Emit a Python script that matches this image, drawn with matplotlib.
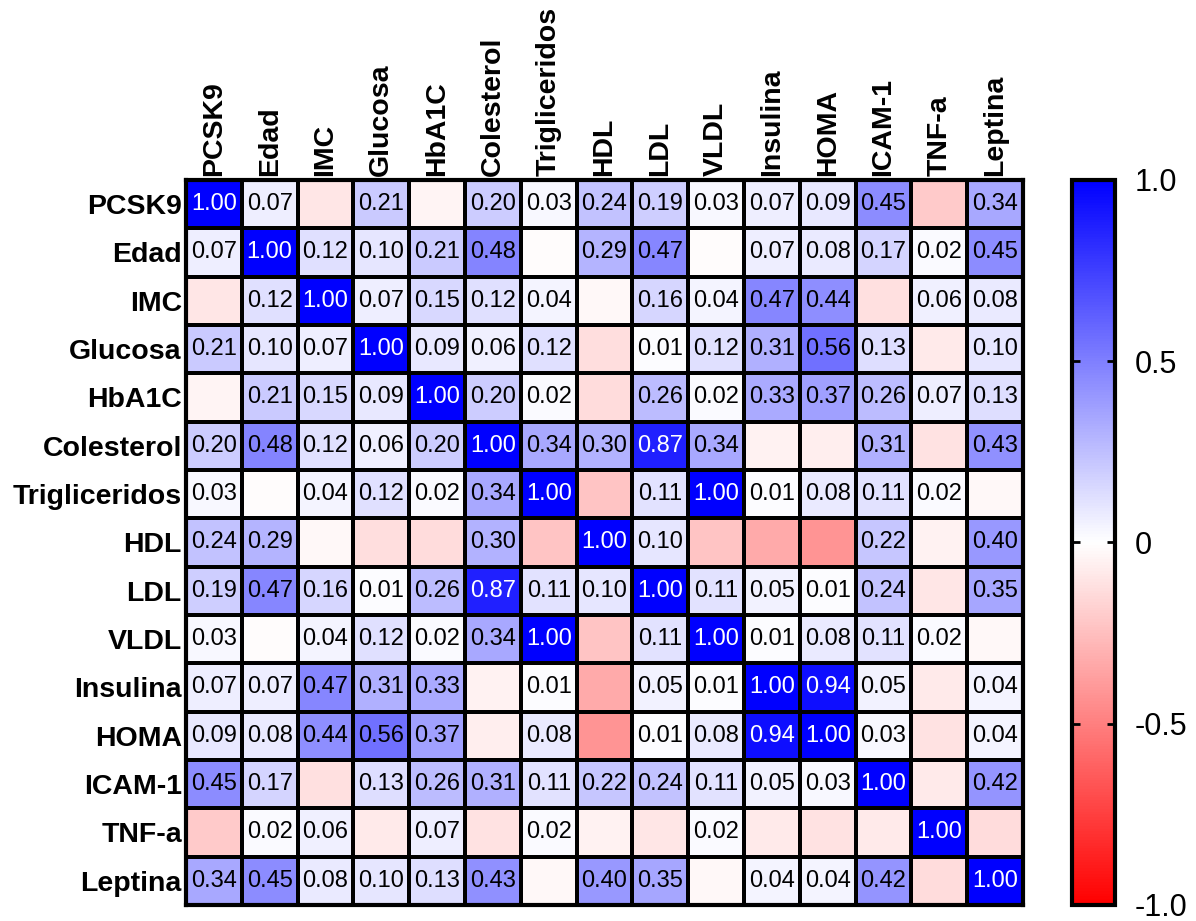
import numpy as np
import matplotlib
matplotlib.use("Agg")
import matplotlib.pyplot as plt
from matplotlib.colors import LinearSegmentedColormap

plt.rcParams['font.family'] = ['Liberation Sans', 'DejaVu Sans']

variables = ["PCSK9", "Edad", "IMC", "Glucosa", "HbA1C", "Colesterol", "Trigliceridos",
             "HDL", "LDL", "VLDL", "Insulina", "HOMA", "ICAM-1", "TNF-a", "Leptina"]

# Pearson r matrix (rows in the same order as variables)
r_pcsk9 = [1.00, 0.07, -0.10, 0.21, -0.04, 0.20, 0.03, 0.24, 0.19, 0.03, 0.07, 0.09, 0.45, -0.21, 0.34]
r_edad = [0.07, 1.00, 0.12, 0.10, 0.21, 0.48, -0.01, 0.29, 0.47, -0.01, 0.07, 0.08, 0.17, 0.02, 0.45]
r_imc = [-0.10, 0.12, 1.00, 0.07, 0.15, 0.12, 0.04, -0.03, 0.16, 0.04, 0.47, 0.44, -0.12, 0.06, 0.08]
r_glucosa = [0.21, 0.10, 0.07, 1.00, 0.09, 0.06, 0.12, -0.13, 0.01, 0.12, 0.31, 0.56, 0.13, -0.08, 0.10]
r_hba1c = [-0.04, 0.21, 0.15, 0.09, 1.00, 0.20, 0.02, -0.14, 0.26, 0.02, 0.33, 0.37, 0.26, 0.07, 0.13]
r_colesterol = [0.20, 0.48, 0.12, 0.06, 0.20, 1.00, 0.34, 0.30, 0.87, 0.34, -0.05, -0.07, 0.31, -0.11, 0.43]
r_tg = [0.03, -0.01, 0.04, 0.12, 0.02, 0.34, 1.00, -0.23, 0.11, 1.00, 0.01, 0.08, 0.11, 0.02, -0.03]
r_hdl = [0.24, 0.29, -0.03, -0.13, -0.14, 0.30, -0.23, 1.00, 0.10, -0.23, -0.33, -0.42, 0.22, -0.05, 0.40]
r_ldl = [0.19, 0.47, 0.16, 0.01, 0.26, 0.87, 0.11, 0.10, 1.00, 0.11, 0.05, 0.01, 0.24, -0.10, 0.35]
r_vldl = [0.03, -0.01, 0.04, 0.12, 0.02, 0.34, 1.00, -0.23, 0.11, 1.00, 0.01, 0.08, 0.11, 0.02, -0.03]
r_insulina = [0.07, 0.07, 0.47, 0.31, 0.33, -0.05, 0.01, -0.33, 0.05, 0.01, 1.00, 0.94, 0.05, -0.08, 0.04]
r_homa = [0.09, 0.08, 0.44, 0.56, 0.37, -0.07, 0.08, -0.42, 0.01, 0.08, 0.94, 1.00, 0.03, -0.11, 0.04]
r_icam = [0.45, 0.17, -0.12, 0.13, 0.26, 0.31, 0.11, 0.22, 0.24, 0.11, 0.05, 0.03, 1.00, -0.08, 0.42]
r_tnf = [-0.21, 0.02, 0.06, -0.08, 0.07, -0.11, 0.02, -0.05, -0.10, 0.02, -0.08, -0.11, -0.08, 1.00, -0.14]
r_leptina = [0.34, 0.45, 0.08, 0.10, 0.13, 0.43, -0.03, 0.40, 0.35, -0.03, 0.04, 0.04, 0.42, -0.14, 1.00]

corr = np.array([r_pcsk9, r_edad, r_imc, r_glucosa, r_hba1c, r_colesterol, r_tg, r_hdl,
                 r_ldl, r_vldl, r_insulina, r_homa, r_icam, r_tnf, r_leptina])

cmap = LinearSegmentedColormap.from_list("rwb", ["#ff0000", "#ffffff", "#0000ff"])
n = len(variables)

fig = plt.figure(figsize=(11.96, 9.21), dpi=100)
ax = fig.add_axes([0.1555, 0.0174, 0.6999, 0.7872])
cax = fig.add_axes([0.8963, 0.0174, 0.036, 0.7872])

mesh = ax.pcolormesh(np.arange(n + 1), np.arange(n + 1), corr, cmap=cmap, vmin=-1, vmax=1,
                     edgecolors="black", linewidth=1.6)
ax.set_xlim(0, n)
ax.set_ylim(n, 0)

# only non-negative coefficients get a number
for i in range(n):
    for j in range(n):
        v = corr[i, j]
        if v >= 0:
            color = "white" if v > 0.75 else "black"
            ax.text(j + 0.5, i + 0.5, f"{v:.2f}", ha="center", va="center",
                    fontsize=17, color=color)

ax.xaxis.tick_top()
ax.set_xticks(np.arange(n) + 0.5)
ax.set_xticklabels(variables, rotation=90, fontsize=20.5, fontweight="bold")
ax.set_yticks(np.arange(n) + 0.5)
ax.set_yticklabels(variables, fontsize=20.5, fontweight="bold")
ax.tick_params(length=0, pad=3)
for sp in ax.spines.values():
    sp.set_linewidth(3)

cb = fig.colorbar(mesh, cax=cax)
cb.set_ticks([-1, -0.5, 0, 0.5, 1])
cb.set_ticklabels(["-1.0", "-0.5", "0", "0.5", "1.0"])
cb.outline.set_linewidth(3)
cax.tick_params(direction="in", left=True, right=True, length=6, width=2,
                labelsize=22, pad=14)

fig.savefig("out.png", dpi=100)
